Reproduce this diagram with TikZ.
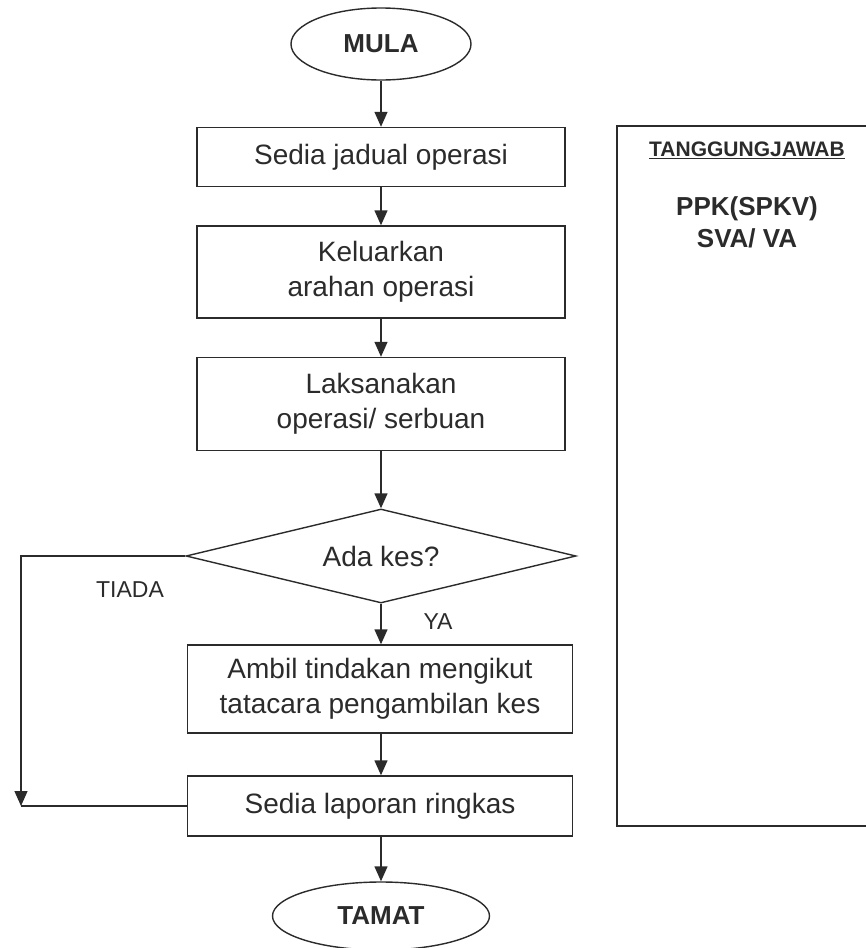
\documentclass[tikz,border=0pt]{standalone}
\usepackage{fontspec}
\setmainfont{Liberation Sans}
\usetikzlibrary{arrows.meta,shapes.geometric,positioning}
\definecolor{inkgrey}{rgb}{0.17,0.17,0.17}
\tikzstyle{startstop} = [ellipse, draw=inkgrey, line width=1.4pt, inner sep=0pt, text=inkgrey, font=\fontsize{26}{30}\selectfont\bfseries]
\tikzstyle{process} = [rectangle, draw=inkgrey, line width=1.4pt, inner sep=0pt, minimum width=368pt, align=center, text=inkgrey, font=\fontsize{28}{35}\selectfont]
\tikzstyle{decision} = [diamond, draw=inkgrey, line width=1.4pt, inner sep=0pt, aspect=4.15, minimum width=390pt, minimum height=94pt, text=inkgrey, font=\fontsize{28}{35}\selectfont]
\tikzstyle{note} = [text=inkgrey, font=\fontsize{23}{28}\selectfont]
\tikzstyle{line} = [draw=inkgrey, line width=1.4pt]
\tikzstyle{arrow} = [line, -{Triangle[length=15pt,width=13pt]}]

\begin{document}
\begin{tikzpicture}[x=1pt,y=-1pt]
\useasboundingbox (0,0) rectangle (865,948);
% aliran utama
\node (mula) at (381,44) [startstop, minimum width=180pt, minimum height=72pt] {MULA};
\node (jadual) at (381,157) [process, minimum height=59pt] {Sedia jadual operasi};
\node (arahan) at (381,272) [process, minimum height=92pt] {Keluarkan\\arahan operasi};
\node (serbuan) at (381,404) [process, minimum height=93pt] {Laksanakan\\operasi/ serbuan};
\node (kes) at (381,556) [decision] {Ada kes?};
\node (tindakan) at (380,689) [process, minimum width=385pt, minimum height=88pt] {Ambil tindakan mengikut\\tatacara pengambilan kes};
\node (laporan) at (380,806) [process, minimum width=385pt, minimum height=60pt] {Sedia laporan ringkas};
\node (tamat) at (381,916) [startstop, minimum width=217pt, minimum height=68pt] {TAMAT};
\draw [arrow] (mula) -- (jadual);
\draw [arrow] (jadual) -- (arahan);
\draw [arrow] (arahan) -- (serbuan);
\draw [arrow] (serbuan) -- (kes);
\draw [arrow] (kes.south) -- (tindakan.north -| kes.south);
\draw [arrow] (tindakan.south -| kes.south) -- (laporan.north -| kes.south);
\draw [arrow] (laporan.south -| tamat.north) -- (tamat);
% cabang tiada
\coordinate (belok) at (21,806);
\draw [arrow] (kes.west) -| (belok);
\draw [line] (belok) -- (laporan.west);
\node (tiada) at (130,590) [note] {TIADA};
\node (ya) at (438,622) [note] {YA};
% kotak tanggungjawab
\draw [line] (866,126) -- (617,126) -- (617,826) -- (866,826);
\node (tj) at (747,150) [text=inkgrey, font=\fontsize{21}{25}\selectfont\bfseries] {\underline{TANGGUNGJAWAB}};
\node (ppk) at (747,222) [text=inkgrey, align=center, font=\fontsize{26}{32}\selectfont\bfseries] {PPK(SPKV)\\SVA/ VA};
\end{tikzpicture}
\end{document}
